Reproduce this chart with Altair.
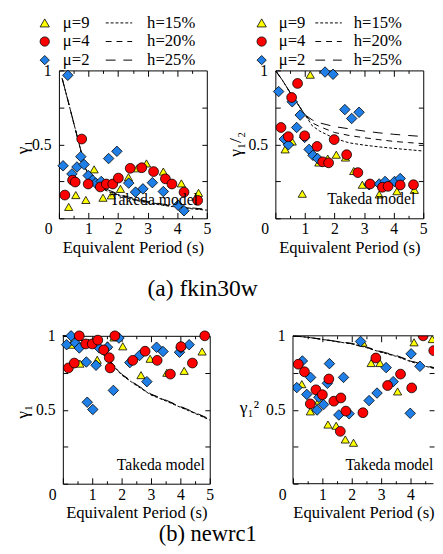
import altair as alt
import pandas as pd

FONT = "Liberation Serif"
MU = ["μ=9", "μ=4", "μ=2"]
H = ["h=15%", "h=20%", "h=25%"]
SHAPES = ["triangle-up", "circle", "diamond"]
FILLS = ["#ffff00", "#ff0000", "#1f7fe6"]
DASHES = [[3, 2], [6, 5], [10, 8]]
SIZES = {"μ=9": 70, "μ=4": 100, "μ=2": 115}

# ---------------- (a) fkin30w : gamma_1 ----------------
A1_MU9_X = [0.33, 0.57, 0.91, 1.19, 1.49, 1.77, 2.08, 2.35, 2.65, 2.96, 3.53, 4.14, 4.72]
A1_MU9_Y = [0.077, 0.157, 0.124, 0.331, 0.139, 0.155, 0.199, 0.278, 0.338, 0.371, 0.316, 0.236, 0.172]
A1_MU4_X = [0.20, 0.46, 0.55, 0.77, 0.99, 1.40, 1.60, 1.82, 2.01, 2.41, 2.80, 3.20, 3.60, 3.82, 4.23, 4.69]
A1_MU4_Y = [0.157, 0.258, 0.245, 0.536, 0.232, 0.212, 0.232, 0.232, 0.272, 0.338, 0.342, 0.316, 0.267, 0.232, 0.177, 0.121]
A1_MU2_X = [0.14, 0.30, 0.44, 0.61, 0.74, 0.85, 0.99, 1.14, 1.24, 1.43, 1.68, 1.96, 2.36, 2.59, 2.84, 3.16, 3.53, 4.03, 4.23]
A1_MU2_Y = [0.355, 0.967, 0.300, 0.347, 0.417, 0.364, 0.289, 0.258, 0.238, 0.249, 0.404, 0.453, 0.238, 0.177, 0.199, 0.241, 0.181, 0.088, 0.051]
A1_LX = [0.11, 0.3, 0.5, 0.7, 0.9, 1.0, 1.25, 1.5, 2.0, 2.5, 3.0, 3.5, 4.0, 4.5, 5.0]
A1_H15 = [0.945, 0.80, 0.645, 0.49, 0.338, 0.29, 0.232, 0.195, 0.155, 0.125, 0.105, 0.088, 0.075, 0.064, 0.055]
A1_H20 = [0.945, 0.80, 0.645, 0.49, 0.338, 0.292, 0.237, 0.200, 0.160, 0.130, 0.110, 0.092, 0.078, 0.067, 0.058]
A1_H25 = [0.945, 0.80, 0.645, 0.49, 0.338, 0.294, 0.242, 0.205, 0.165, 0.135, 0.114, 0.096, 0.082, 0.070, 0.061]

# ---------------- (a) fkin30w : gamma_1/2 ----------------
A2_MU9_X = [0.33, 0.57, 0.91, 1.18, 1.47, 1.77, 2.06, 2.37, 2.65, 2.94, 3.51, 4.11, 4.70]
A2_MU9_Y = [0.466, 0.519, 0.166, 0.971, 0.377, 0.404, 0.430, 0.411, 0.320, 0.227, 0.161, 0.183, 0.192]
A2_MU4_X = [0.19, 0.44, 0.55, 0.75, 0.99, 1.41, 1.60, 1.80, 1.99, 2.41, 2.79, 3.20, 3.62, 3.81, 4.22, 4.67]
A2_MU4_Y = [0.614, 0.552, 0.817, 0.912, 0.558, 0.486, 0.382, 0.375, 0.532, 0.430, 0.309, 0.232, 0.210, 0.216, 0.225, 0.227]
A2_MU2_X = [0.11, 0.30, 0.44, 0.57, 0.72, 0.84, 0.99, 1.14, 1.27, 1.43, 1.68, 1.95, 2.35, 2.58, 2.83, 3.17, 3.51, 3.71, 4.03, 4.22]
A2_MU2_Y = [0.857, 0.536, 0.497, 0.788, 0.614, 0.698, 0.547, 0.466, 0.426, 0.404, 0.989, 0.974, 0.735, 0.675, 0.717, 0.227, 0.232, 0.249, 0.249, 0.269]
A2_LX = [0.02, 0.25, 0.5, 0.75, 1.0, 1.25, 1.5, 2.0, 2.5, 3.0, 3.5, 4.0, 4.5, 5.0]
A2_H15 = [0.995, 0.93, 0.85, 0.775, 0.70, 0.625, 0.590, 0.540, 0.510, 0.495, 0.483, 0.473, 0.464, 0.455]
A2_H20 = [0.995, 0.93, 0.85, 0.775, 0.70, 0.645, 0.620, 0.580, 0.560, 0.545, 0.532, 0.520, 0.512, 0.505]
A2_H25 = [0.995, 0.93, 0.85, 0.775, 0.70, 0.665, 0.645, 0.620, 0.605, 0.590, 0.578, 0.568, 0.560, 0.553]

# ---------------- (b) newrc1 : gamma_1 ----------------
B1_MU9_X = [0.28, 0.58, 0.88, 1.17, 1.52, 1.74, 2.04, 2.66, 2.97, 3.54, 4.13, 4.74]
B1_MU9_Y = [0.940, 0.812, 0.954, 0.838, 0.936, 0.989, 0.929, 0.734, 0.845, 0.750, 0.763, 0.894]
B1_MU4_X = [0.19, 0.39, 0.56, 0.78, 1.00, 1.19, 1.39, 1.58, 1.61, 1.77, 2.38, 2.80, 3.21, 3.66, 4.02, 4.41, 4.83]
B1_MU4_Y = [0.783, 0.816, 1.000, 0.945, 0.945, 0.971, 0.905, 0.852, 0.783, 1.000, 0.834, 0.896, 0.834, 0.741, 0.927, 0.816, 1.000]
B1_MU2_X = [0.13, 0.28, 0.43, 0.56, 0.80, 0.83, 1.02, 1.13, 1.24, 1.52, 1.72, 1.91, 2.28, 2.61, 2.86, 3.19, 3.41, 3.97, 4.02, 4.30]
B1_MU2_Y = [0.940, 1.000, 0.951, 0.918, 0.823, 0.551, 0.502, 0.801, 0.918, 0.923, 0.631, 0.985, 0.819, 0.867, 0.690, 0.923, 0.894, 0.889, 0.918, 0.940]
B1_LX = [0.0, 0.25, 0.5, 0.75, 1.0, 1.25, 1.5, 1.75, 2.0, 2.5, 3.0, 3.5, 4.0, 4.5, 5.0]
B1_H15 = [1.0, 0.995, 0.980, 0.956, 0.930, 0.895, 0.850, 0.790, 0.735, 0.665, 0.600, 0.560, 0.517, 0.475, 0.431]
B1_H20 = [1.0, 0.995, 0.981, 0.957, 0.932, 0.897, 0.853, 0.793, 0.738, 0.668, 0.603, 0.563, 0.520, 0.478, 0.434]
B1_H25 = [1.0, 0.995, 0.982, 0.958, 0.934, 0.899, 0.856, 0.796, 0.741, 0.671, 0.606, 0.566, 0.523, 0.481, 0.437]

# ---------------- (b) newrc1 : gamma_1^2 ----------------
B2_MU9_X = [0.30, 0.59, 0.88, 1.19, 1.47, 1.78, 2.06, 2.38, 2.66, 2.96, 3.56, 4.12, 4.74]
B2_MU9_Y = [0.673, 0.489, 0.562, 0.400, 0.392, 0.299, 0.277, 0.954, 0.816, 0.816, 0.624, 0.956, 0.978]
B2_MU4_X = [0.18, 0.39, 0.59, 0.78, 1.00, 1.22, 1.39, 1.63, 1.61, 1.80, 2.38, 2.82, 3.22, 3.66, 4.04, 4.43, 4.79]
B2_MU4_Y = [0.808, 0.757, 0.540, 0.635, 0.602, 0.708, 0.558, 0.580, 0.354, 0.491, 0.480, 0.850, 0.664, 0.741, 0.648, 1.000, 0.900]
B2_MU2_X = [0.13, 0.32, 0.47, 0.60, 0.82, 0.88, 1.04, 1.17, 1.24, 1.56, 1.72, 1.91, 2.30, 2.59, 2.86, 3.17, 3.41, 3.99, 4.02, 4.32]
B2_MU2_Y = [0.650, 0.830, 0.604, 0.719, 0.498, 0.584, 0.535, 0.679, 0.812, 0.465, 0.719, 0.473, 0.962, 0.562, 0.613, 0.785, 0.690, 0.476, 0.878, 0.794]
B2_LX = [0.0, 0.5, 1.0, 1.5, 2.0, 2.5, 3.0, 3.5, 4.0, 4.5, 4.8]
B2_H15 = [1.0, 0.990, 0.975, 0.960, 0.945, 0.920, 0.888, 0.862, 0.826, 0.795, 0.779]
B2_H20 = [1.0, 0.990, 0.976, 0.961, 0.947, 0.922, 0.891, 0.865, 0.829, 0.798, 0.782]
B2_H25 = [1.0, 0.990, 0.977, 0.962, 0.949, 0.924, 0.894, 0.868, 0.832, 0.801, 0.785]

TAKEDA = "Takeda model"
XTITLE = "Equivalent Period (s)"
BR_XMAX = 4.8      # right part of the last panel is cut off by the page edge
BR_FRAME_END = 4.78


def tick_axis(orient, values, size):
    return alt.Axis(orient=orient, values=values, tickSize=size, offset=-size,
                    domain=False, labels=False, grid=False, title=None)


def panel(series, line_x, curves, xmax, width, ytitle, ytx, yty, yangle, leg, tk, open_right=False):
    xsc = alt.Scale(domain=[0, xmax], nice=False, zero=False)
    ysc = alt.Scale(domain=[0, 1], nice=False, zero=False)
    major = [v for v in [0, 1, 2, 3, 4, 5] if v <= xmax + 1e-9]
    minor = [v for v in [0.5, 1.5, 2.5, 3.5, 4.5] if v < xmax]
    inner = [v for v in major if 0 < v < xmax - 1e-9]

    xmain = alt.Axis(
        orient="bottom", values=major, tickSize=6, offset=-6, domain=False, grid=False,
        labelPadding=3, labelFontSize=16, labelFlush=False, labelOverlap=False, labelBound=False,
        labelAlign={"condition": {"test": "datum.value === 0", "value": "right"}, "value": "center"},
        labelOffset={"condition": {"test": "datum.value === 0", "value": -7}, "value": 0},
        title=XTITLE, titleFontSize=17, titlePadding=3, titleFontWeight="normal")
    ymain = alt.Axis(
        orient="left", values=[0, 0.25, 0.5, 0.75, 1], tickSize=5, offset=-5, domain=False, grid=False,
        labelExpr="datum.value == 0.5 ? '0.5' : (datum.value == 1 ? '1' : '')",
        labelPadding=8, labelFontSize=16, labelOverlap=False, labelFlush=False,
        title=ytitle, titleFontSize=18, titleAngle=yangle, titleX=ytx - 5, titleY=yty,
        titleAlign="center", titleBaseline="middle", titleFontWeight="normal")

    if leg is not None:
        fill_leg = alt.Legend(
            orient="none", legendX=leg["mx"], legendY=leg["y"], direction="vertical", title=None,
            padding=0, rowPadding=1, labelFont=FONT, labelFontSize=17, labelColor="black",
            labelOffset=leg["mlo"], symbolSize=90, symbolStrokeColor="black", symbolStrokeWidth=0.8)
        dash_leg = alt.Legend(
            orient="none", legendX=leg["hx"], legendY=leg["y"], direction="vertical", title=None,
            padding=0, rowPadding=1, labelFont=FONT, labelFontSize=17, labelColor="black",
            labelOffset=leg["hlo"], symbolType="M-2.7,0H2.7", symbolSize=100,
            symbolStrokeColor="black", symbolStrokeWidth=1)
        shape_leg = alt.Undefined
    else:
        fill_leg = None
        dash_leg = None
        shape_leg = None

    rows = []
    for h, ys in zip(H, curves):
        rows += [{"x": a, "y": b, "h": h} for a, b in zip(line_x, ys)]
    ldf = pd.DataFrame(rows)
    lines = alt.Chart(ldf).mark_line(color="black", strokeWidth=1, clip=open_right).encode(
        x=alt.X("x:Q", scale=xsc, axis=tick_axis("top", inner, 6)),
        y=alt.Y("y:Q", scale=ysc, axis=tick_axis("right", [0.25, 0.5, 0.75], 5)),
        strokeDash=alt.StrokeDash("h:N", scale=alt.Scale(domain=H, range=DASHES), legend=dash_leg),
    )

    def pts(mu, xax, yax):
        xs, ys = series[mu]
        df = pd.DataFrame({"x": xs, "y": ys, "mu": [mu] * len(xs)})
        return alt.Chart(df).mark_point(
            filled=True, stroke="black", strokeWidth=0.8, size=SIZES[mu], opacity=1, clip=open_right
        ).encode(
            x=alt.X("x:Q", scale=xsc, axis=xax),
            y=alt.Y("y:Q", scale=ysc, axis=yax),
            fill=alt.Fill("mu:N", scale=alt.Scale(domain=MU, range=FILLS), legend=fill_leg),
            shape=alt.Shape("mu:N", scale=alt.Scale(domain=MU, range=SHAPES), legend=shape_leg),
        )

    tri = pts("μ=9", xmain, ymain)
    dia = pts("μ=2", tick_axis("bottom", minor, 3), None)
    cir = pts("μ=4", tick_axis("top", minor, 3), None)

    tdf = pd.DataFrame({"x": [tk[0]], "y": [tk[1]], "t": [TAKEDA]})
    txt = alt.Chart(tdf).mark_text(
        align="right", baseline="middle", font=FONT, fontSize=16, color="black"
    ).encode(
        x=alt.X("x:Q", scale=xsc, axis=None),
        y=alt.Y("y:Q", scale=ysc, axis=None),
        text="t:N",
    )
    layers = [lines, tri, dia, cir, txt]
    props = dict(width=width, height=151)
    if open_right:
        fdf = pd.DataFrame({"x": [0, 0, 0], "x2": [0, BR_FRAME_END, BR_FRAME_END],
                            "y": [0, 0, 1], "y2": [1, 0, 1]})
        frame = alt.Chart(fdf).mark_rule(color="black", strokeWidth=1).encode(
            x=alt.X("x:Q", scale=xsc, axis=None), x2="x2:Q",
            y=alt.Y("y:Q", scale=ysc, axis=None), y2="y2:Q")
        layers.append(frame)
        props["view"] = alt.ViewBackground(strokeOpacity=0)
    return alt.layer(*layers).resolve_axis(x="independent", y="independent").properties(**props)


IND = dict(fill="independent", shape="independent", strokeDash="independent")

tl = panel({"μ=9": (A1_MU9_X, A1_MU9_Y), "μ=4": (A1_MU4_X, A1_MU4_Y), "μ=2": (A1_MU2_X, A1_MU2_Y)},
           A1_LX, [A1_H15, A1_H20, A1_H25], 5, 151, "γ₁", -37.5, 78, 270,
           {"mx": -23, "mlo": 10, "hx": 52.8, "hlo": 20.2, "y": -57}, (4.7, 0.12))
tr = panel({"μ=9": (A2_MU9_X, A2_MU9_Y), "μ=4": (A2_MU4_X, A2_MU4_Y), "μ=2": (A2_MU2_X, A2_MU2_Y)},
           A2_LX, [A2_H15, A2_H20, A2_H25], 5, 151, "γ₁/₂", -41, 75, 270,
           {"mx": -22.5, "mlo": 9, "hx": 45.8, "hlo": 17.2, "y": -57}, (4.73, 0.128))
bl = panel({"μ=9": (B1_MU9_X, B1_MU9_Y), "μ=4": (B1_MU4_X, B1_MU4_Y), "μ=2": (B1_MU2_X, B1_MU2_Y)},
           B1_LX, [B1_H15, B1_H20, B1_H25], 5, 150, "γ₁", -41, 77, 270, None, (4.83, 0.128))
br = panel({"μ=9": (B2_MU9_X, B2_MU9_Y), "μ=4": (B2_MU4_X, B2_MU4_Y), "μ=2": (B2_MU2_X, B2_MU2_Y)},
           B2_LX, [B2_H15, B2_H20, B2_H25], BR_XMAX, 144, "γ₁²", -45, 73, 0, None,
           (BR_FRAME_END, 0.128), open_right=True)

spacer = alt.Chart(pd.DataFrame({"x": [0]})).mark_point(opacity=0).encode(
    x=alt.X("x:Q", axis=None), y=alt.Y("x:Q", axis=None)
).properties(width=1, height=1, view=alt.ViewBackground(strokeOpacity=0))

row1 = alt.hconcat(
    tl, tr, spacing=70, bounds="flush",
    title=alt.TitleParams("(a) fkin30w", orient="bottom", anchor="middle", frame="bounds",
                          dx=-18, offset=22, baseline="top", fontSize=24, font=FONT,
                          fontWeight="normal", color="black"),
).resolve_scale(**IND)

inner2 = alt.hconcat(bl, br, spacing=85, bounds="flush").resolve_scale(**IND)
row2 = alt.hconcat(
    spacer, inner2, spacing=3, bounds="flush",
    title=alt.TitleParams("(b) newrc1", orient="bottom", anchor="middle", frame="bounds",
                          dx=-16.5, offset=2, baseline="top", fontSize=23, font=FONT,
                          fontWeight="normal", color="black"),
).resolve_scale(**IND)

chart = alt.vconcat(row1, row2, spacing=26).resolve_scale(**IND).properties(
    padding={"left": 5, "top": 0, "right": 0, "bottom": 0}
).configure(font=FONT).configure_view(
    stroke="black", strokeWidth=1
).configure_axis(
    labelFont=FONT, titleFont=FONT, labelColor="black", titleColor="black",
    tickColor="black", tickWidth=1
).configure_legend(
    labelFont=FONT
)

chart.save("out.html", embed_options={"renderer": "svg", "actions": False})
